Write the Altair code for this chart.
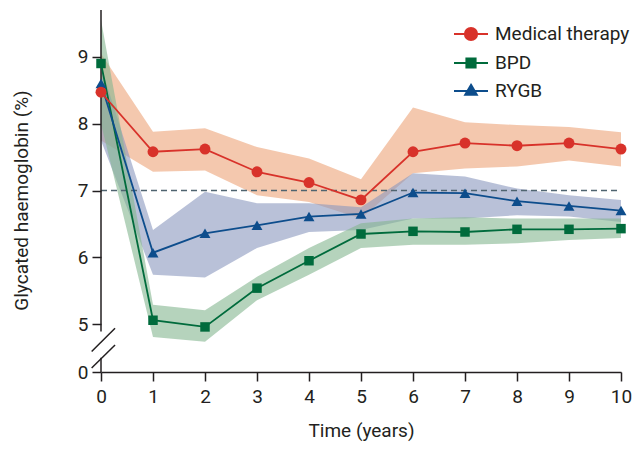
import altair as alt
import pandas as pd

# ---------------- data ----------------
years = [0, 1, 2, 3, 4, 5, 6, 7, 8, 9, 10]
series_names = ["Medical therapy", "BPD", "RYGB"]

med = [8.47, 7.58, 7.62, 7.28, 7.12, 6.86, 7.58, 7.71, 7.67, 7.71, 7.62]
med_lo = [7.75, 7.28, 7.30, 6.93, 6.83, 6.58, 7.26, 7.33, 7.36, 7.45, 7.36]
med_hi = [9.05, 7.88, 7.93, 7.65, 7.48, 7.17, 8.24, 8.02, 7.98, 7.95, 7.87]

bpd = [8.90, 5.06, 4.96, 5.54, 5.95, 6.35, 6.39, 6.38, 6.42, 6.42, 6.43]
bpd_lo = [8.00, 4.81, 4.74, 5.36, 5.74, 6.14, 6.19, 6.19, 6.21, 6.26, 6.29]
bpd_hi = [9.55, 5.29, 5.21, 5.71, 6.14, 6.51, 6.58, 6.60, 6.58, 6.58, 6.58]

rygb = [8.60, 6.07, 6.36, 6.48, 6.61, 6.65, 6.97, 6.96, 6.84, 6.77, 6.70]
rygb_lo = [7.75, 5.74, 5.70, 6.14, 6.38, 6.41, 6.58, 6.58, 6.63, 6.61, 6.53]
rygb_hi = [8.85, 6.41, 6.98, 6.81, 6.81, 6.75, 7.26, 7.21, 7.03, 6.93, 6.86]

y_ticks = [0, 5, 6, 7, 8, 9]
target_level = [7]

# axis-break decoration (data units)
axis_seg_y = [[4.89, 9.7], [0, 3.1]]
break_marks = [[-0.18, 4.47, 0.27, 4.94], [-0.18, 0.87, 0.27, 4.69]]

# ---------------- styling ----------------
line_colors = ["#d8322a", "#006b3c", "#0d4d8c"]
band_colors = ["#eda378", "#84b68f", "#8a98be"]
shapes = ["circle", "square", "triangle-up"]
marker_sizes = [120, 90, 120]
legend_paths = [
    "M-1,0H1M0.36,0A0.36,0.36,0,1,1,-0.36,0A0.36,0.36,0,1,1,0.36,0Z",
    "M-1,0H1M-0.27,-0.27H0.27V0.27H-0.27Z",
    "M-1,0H1M0,-0.36L0.34,0.22H-0.34Z",
]
FONT = "Roboto"
TXT = "#231f20"

rows = []
for name, m, lo, hi in [("Medical therapy", med, med_lo, med_hi),
                        ("BPD", bpd, bpd_lo, bpd_hi),
                        ("RYGB", rygb, rygb_lo, rygb_hi)]:
    for t, a, b, c in zip(years, m, lo, hi):
        rows.append({"series": name, "year": t, "value": a, "lo": b, "hi": c})
df = pd.DataFrame(rows)

W, H = 520, 362
xs = alt.Scale(domain=[0, 10], nice=False, zero=False)
ys = alt.Scale(domain=[0, 4.6, 9.7], range=[H, 341, 0], nice=False, zero=False)

x_axis = alt.Axis(
    values=years, title="Time (years)", grid=False, tickSize=9, tickWidth=1.5,
    domainWidth=1.5, domainColor=TXT, tickColor=TXT, labelColor=TXT, labelFlush=False,
    labelFont=FONT, labelFontSize=19, labelPadding=6, titleFont=FONT,
    titleFontSize=19, titleFontWeight="normal", titleColor=TXT, titlePadding=15)
y_axis = alt.Axis(
    values=y_ticks, title="Glycated haemoglobin (%)", grid=False, domain=False,
    tickSize=9, tickWidth=1.5, tickColor=TXT, labelColor=TXT, labelFont=FONT,
    labelFlush=False, labelFontSize=19, labelPadding=4, titleFont=FONT, titleFontSize=19,
    titleFontWeight="normal", titleColor=TXT, titlePadding=46, titleY=190)


def X(field):
    return alt.X(field, scale=xs, axis=x_axis, title="Time (years)")


def Y(field):
    return alt.Y(field, scale=ys, axis=y_axis, title="Glycated haemoglobin (%)")


base = alt.Chart(df)
layers = []

# bands
for name, col in zip(["Medical therapy", "RYGB", "BPD"], [band_colors[0], band_colors[2], band_colors[1]]):
    layers.append(base.transform_filter(alt.datum.series == name).mark_area(
        color=col, opacity=0.6).encode(x=X("year:Q"), y=Y("lo:Q"), y2="hi:Q"))

# target dashed line
layers.append(alt.Chart(pd.DataFrame({"v": target_level})).mark_rule(
    color="#4f6470", strokeDash=[6, 4], strokeWidth=1.5).encode(
    y=Y("v:Q"), x=alt.datum(0, scale=xs, axis=x_axis, title="Time (years)"), x2=alt.datum(10)))

# y axis line with break
seg_df = pd.DataFrame({"x0": [0, 0], "y1": [s[0] for s in axis_seg_y], "y2": [s[1] for s in axis_seg_y]})
layers.append(alt.Chart(seg_df).mark_rule(color=TXT, strokeWidth=1.5).encode(
    x=X("x0:Q"), y=Y("y1:Q"), y2="y2:Q"))
brk_df = pd.DataFrame({"x1": [b[0] for b in break_marks], "y1": [b[1] for b in break_marks],
                       "x2": [b[2] for b in break_marks], "y2": [b[3] for b in break_marks]})
layers.append(alt.Chart(brk_df).mark_rule(color=TXT, strokeWidth=1.5).encode(
    x=X("x1:Q"), x2="x2:Q", y=Y("y1:Q"), y2="y2:Q"))

# lines + markers (green, blue, red order so red on top)
for idx in [1, 2, 0]:
    name = series_names[idx]
    sub = base.transform_filter(alt.datum.series == name)
    layers.append(sub.mark_line(color=line_colors[idx], strokeWidth=1.8).encode(
        x=X("year:Q"), y=Y("value:Q")))
    layers.append(sub.mark_point(filled=True, opacity=1, color=line_colors[idx],
                                 shape=shapes[idx], size=marker_sizes[idx]).encode(
        x=X("year:Q"), y=Y("value:Q")))

# legend carrier (no marks drawn)
leg = alt.Legend(title=None)
layers.append(base.transform_filter("false").mark_point(filled=True, opacity=1, strokeWidth=2).encode(
    x=X("year:Q"), y=Y("value:Q"),
    fill=alt.Fill("series:N", scale=alt.Scale(domain=series_names, range=line_colors), legend=leg),
    stroke=alt.Stroke("series:N", scale=alt.Scale(domain=series_names, range=line_colors), legend=leg),
    shape=alt.Shape("series:N", scale=alt.Scale(domain=series_names, range=legend_paths), legend=leg),
))

chart = alt.layer(*layers).properties(
    width=W, height=H,
    autosize=alt.AutoSizeParams(type="none"),
    padding={"left": 101, "top": 10, "right": 19, "bottom": 79},
).configure_view(stroke=None).configure_legend(
    orient="none", legendX=352, legendY=6, direction="vertical",
    labelFont=FONT, labelFontSize=19, labelColor=TXT, symbolSize=1156,
    symbolStrokeWidth=2, symbolOpacity=1, rowPadding=-1, labelOffset=6,
)

chart.save("out.html", embed_options={"renderer": "svg", "actions": False})
